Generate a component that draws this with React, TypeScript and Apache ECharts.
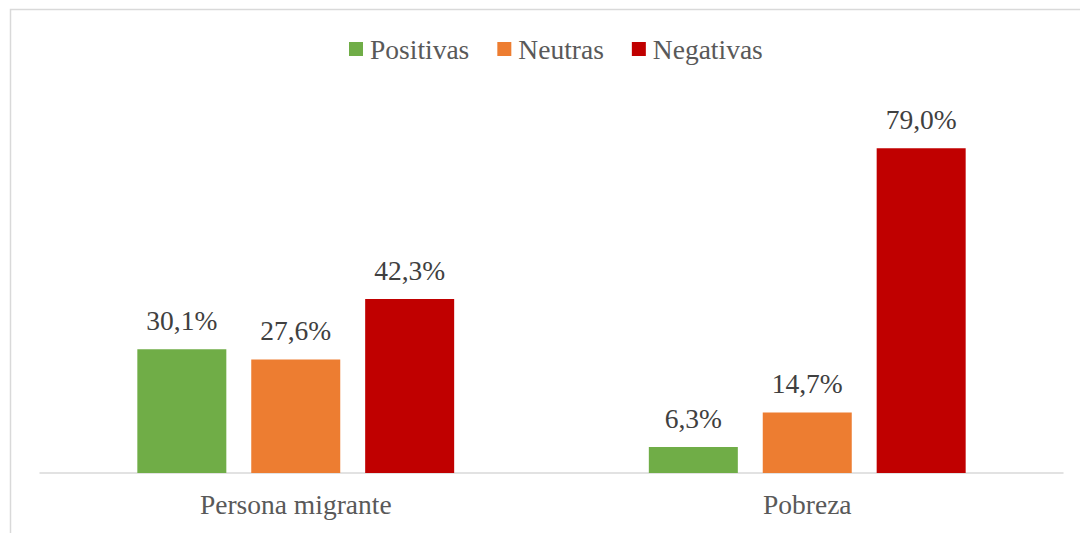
import React, { useEffect, useRef } from "react";
import * as echarts from "echarts";

const categories = ["Persona migrante", "Pobreza"];
const seriesNames = ["Positivas", "Neutras", "Negativas"];
const positivas = [30.1, 6.3];
const neutras = [27.6, 14.7];
const negativas = [42.3, 79.0];
const colors = ["#70AD47", "#ED7D31", "#C00000"];

const FONT = '"Liberation Serif", "Times New Roman", serif';

export default function App() {
  const ref = useRef<HTMLDivElement>(null);
  useEffect(() => {
    if (!ref.current) return;
    const chart = echarts.init(ref.current, undefined, { renderer: "svg" });
    const values = [positivas, neutras, negativas];
    chart.setOption({
      animation: false,
      backgroundColor: "#ffffff",
      textStyle: { fontFamily: FONT },
      graphic: [
        {
          type: "rect",
          shape: { x: 10.5, y: 9.5, width: 1200, height: 700 },
          style: { fill: "none", stroke: "#d9d9d9", lineWidth: 1.5 },
          silent: true,
          z: -1,
        },
      ],
      legend: {
        top: 30,
        left: 344,
        itemWidth: 14,
        itemHeight: 14,
        itemGap: 28,
        icon: "rect",
        textStyle: { fontFamily: FONT, fontSize: 27.5, color: "#595959", padding: [0, 0, 0, 2] },
        data: seriesNames,
      },
      grid: { left: 40, right: 17, top: 103, bottom: 60, containLabel: false },
      xAxis: {
        type: "category",
        data: categories,
        axisLine: { lineStyle: { color: "#d9d9d9", width: 1.5 } },
        axisTick: { show: false },
        axisLabel: { fontFamily: FONT, fontSize: 27.5, color: "#595959", margin: 17 },
      },
      yAxis: {
        type: "value",
        min: 0,
        max: 90,
        show: false,
        splitLine: { show: false },
      },
      series: seriesNames.map((name, i) => ({
        name,
        type: "bar",
        data: values[i],
        barWidth: 89,
        barGap: "28%",
        itemStyle: { color: colors[i] },
        label: {
          show: true,
          position: "top",
          distance: 15,
          fontFamily: FONT,
          fontSize: 27.5,
          color: "#404040",
          formatter: (p: any) => p.value.toFixed(1).replace(".", ",") + "%",
        },
      })),
    });
    return () => chart.dispose();
  }, []);
  return (
    <div
      ref={ref}
      style={{ position: "absolute", left: 0, top: 0, width: 1080, height: 533 }}
    />
  );
}
